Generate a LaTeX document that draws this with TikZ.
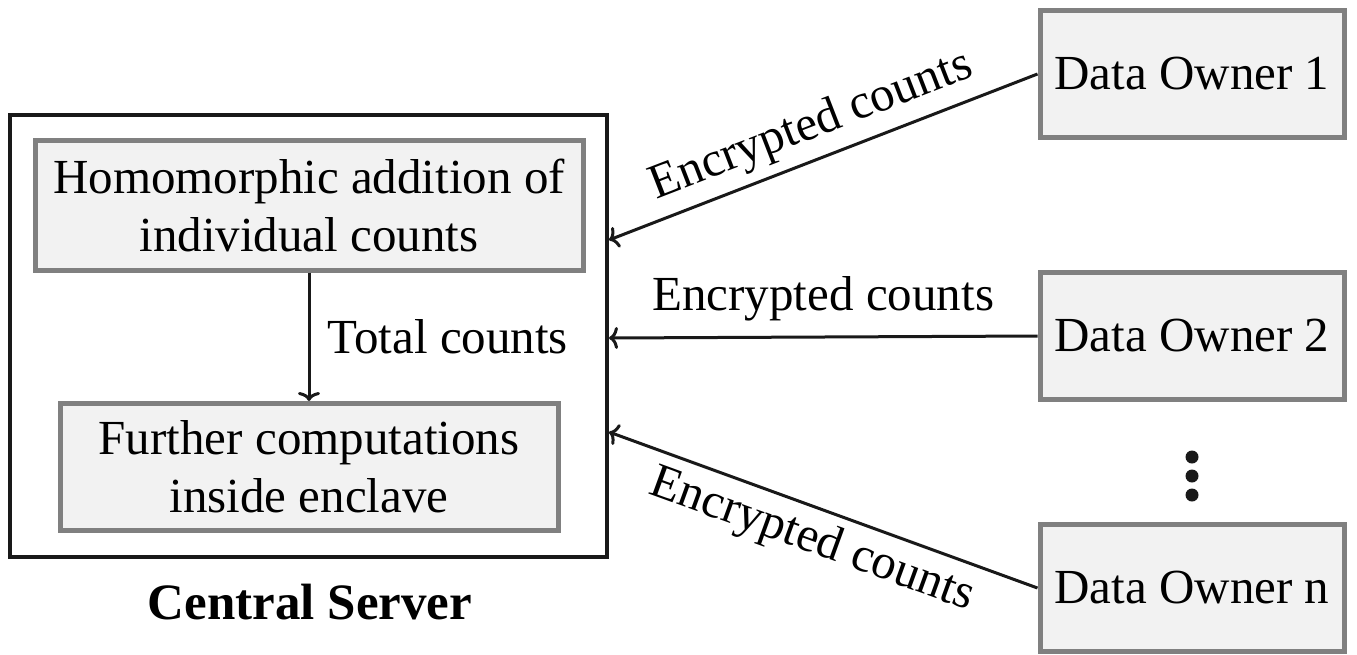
\documentclass[tikz,border=0pt]{standalone}
\usepackage{fontspec}
\setmainfont{Liberation Serif}
\usetikzlibrary{arrows.meta}
\begin{document}
\begin{tikzpicture}[x=1pt,y=-1pt,
  font=\fontsize{49}{58}\selectfont,
  graybox/.style={draw=black!50, line width=5pt, fill=black!5, align=center, inner sep=0pt},
  outerbox/.style={draw=black!90, line width=4pt, inner sep=0pt},
  conn/.style={draw=black!90, line width=3pt, -{To[length=9pt,width=22pt]}},
  lbl/.style={inner sep=9pt}
]
\useasboundingbox (0,0) rectangle (1357,654);
\node[outerbox, minimum width=597pt, minimum height=442pt] (server) at (308.5,336) {};
\node[graybox, minimum width=548pt, minimum height=130pt] (hom) at (309,205)
  {Homomorphic addition of\\individual counts};
\node[graybox, minimum width=498pt, minimum height=127pt] (fur) at (309,467)
  {Further computations\\inside enclave};
\node[font=\fontsize{51}{58}\selectfont\bfseries] (cs) at (310,602) {Central Server};
\draw[conn] (hom.south) -- (fur.north)
  node[pos=0.5, right=14pt] (tc) {Total counts};

\node[graybox, minimum width=304pt, minimum height=127pt] (d1) at (1192,74) {Data Owner 1};
\node[graybox, minimum width=304pt, minimum height=127pt] (d2) at (1192,336) {Data Owner 2};
\node[graybox, minimum width=304pt, minimum height=127pt] (dn) at (1192,588) {Data Owner n};

\coordinate (e1) at (609,240);
\coordinate (e2) at (609,338);
\coordinate (e3) at (609,432);
\draw[conn] (d1.west) -- (e1) node[midway, sloped, above, lbl] (l1) {Encrypted counts};
\draw[conn] (d2.west) -- (e2) node[midway, above, inner sep=14pt] (l2) {Encrypted counts};
\draw[conn] (dn.west) -- (e3) node[midway, sloped, below, lbl] (l3) {Encrypted counts};

\fill[black!90] (1192,457) circle (6.5) (1192,476) circle (6.5) (1192,495) circle (6.5);
\end{tikzpicture}
\end{document}
